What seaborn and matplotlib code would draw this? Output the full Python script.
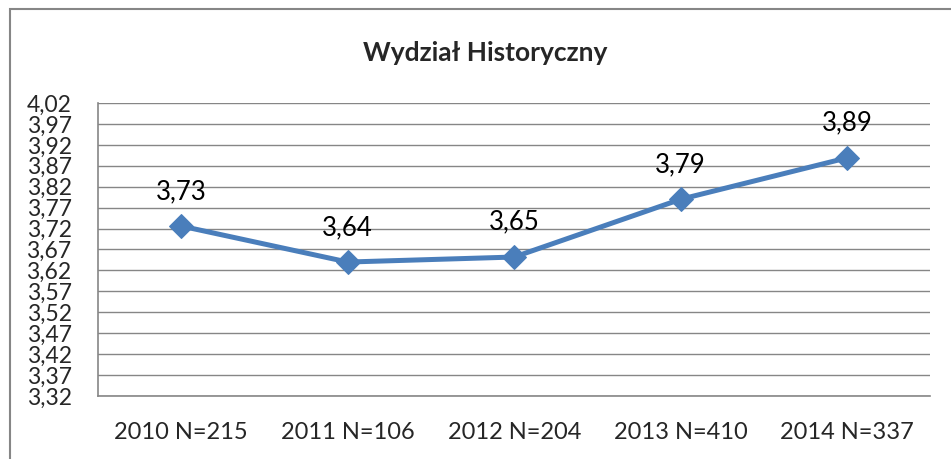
import matplotlib
matplotlib.use("Agg")
import matplotlib.pyplot as plt
import matplotlib.ticker as mticker
import seaborn as sns
import numpy as np
import pandas as pd

# data
years = ["2010 N=215", "2011 N=106", "2012 N=204", "2013 N=410", "2014 N=337"]
scores = [3.726, 3.64, 3.652, 3.79, 3.889]
labels = ["3,73", "3,64", "3,65", "3,79", "3,89"]
y_ticks = [3.32, 3.37, 3.42, 3.47, 3.52, 3.57, 3.62, 3.67, 3.72,
           3.77, 3.82, 3.87, 3.92, 3.97, 4.02]

sns.set_style("white")
plt.rcParams['font.family'] = ['Lato', 'DejaVu Sans']

df = pd.DataFrame({"rok": years, "wynik": scores})

fig = plt.figure(figsize=(9.51, 4.59), dpi=100)
ax = fig.add_axes([0.1030, 0.1373, 0.8754, 0.6383])

sns.lineplot(data=df, x="rok", y="wynik", ax=ax, color="#4A7EBB",
             linewidth=3.6, marker="D", markersize=12,
             markeredgecolor="#4A7EBB", sort=False)

ax.set_xlim(-0.5, len(years) - 0.5)
ax.set_ylim(y_ticks[0], y_ticks[-1])
ax.set_yticks(y_ticks)
ax.yaxis.set_major_formatter(mticker.FuncFormatter(
    lambda v, p: f"{v:.2f}".replace(".", ",")))
ax.set_xticks(range(len(years)))
ax.set_xticklabels(years)
ax.set_xticks(np.arange(-0.5, len(years)), minor=True)
ax.tick_params(axis="x", which="major", length=0, pad=19, labelsize=17)
ax.tick_params(axis="x", which="minor", length=7, width=1.2, color="#868686",
               direction="out")
ax.tick_params(axis="y", length=7, width=1.2, color="#868686",
               direction="out", pad=12, labelsize=16.5)
ax.set_xlabel("")
ax.set_ylabel("")

ax.grid(axis="y", color="#868686", linewidth=1.0)
ax.grid(axis="x", visible=False)
for side in ["top", "right"]:
    ax.spines[side].set_visible(False)
for side in ["left", "bottom"]:
    ax.spines[side].set_color("#868686")
    ax.spines[side].set_linewidth(1.2)

for i, (v, t) in enumerate(zip(scores, labels)):
    ax.annotate(t, (i, v), xytext=(0, 16), textcoords="offset points",
                ha="center", va="bottom", fontsize=18.5, color="black")

fig.text(0.51, 0.885, "Wydział Historyczny", ha="center", va="center",
         fontsize=19, fontweight="bold")

# outer chart border (only top and left fall inside the picture)
fig.add_artist(plt.Rectangle((9.5 / 951, -0.05), 1.1, 1 - 9.5 / 459 + 0.05,
                             transform=fig.transFigure, fill=False,
                             edgecolor="#868686", linewidth=1.5))

fig.savefig("out.png", dpi=100)
plt.close(fig)
